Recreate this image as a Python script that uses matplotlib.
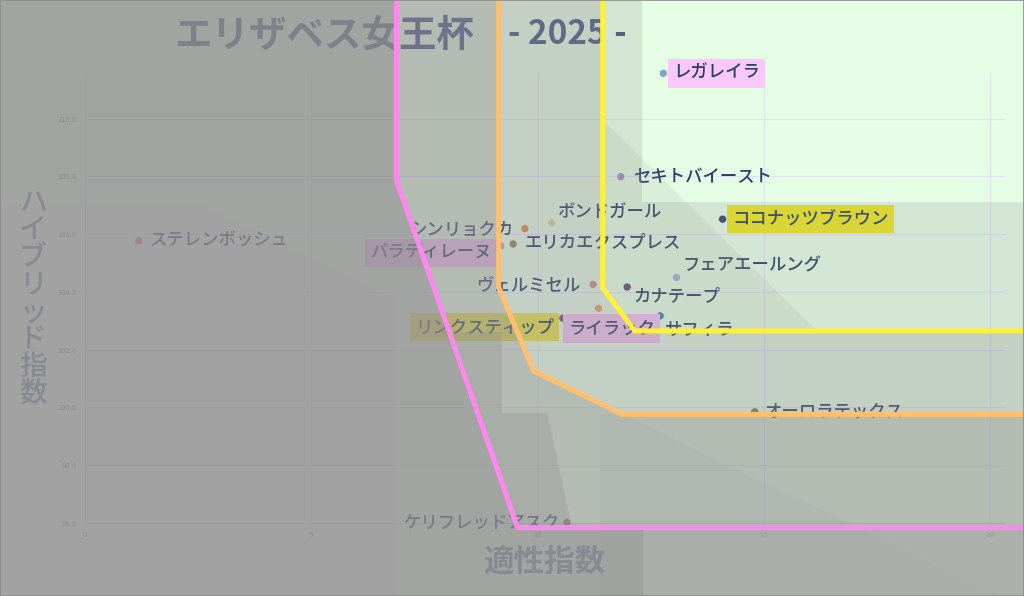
import matplotlib
matplotlib.use("Agg")
import matplotlib.pyplot as plt
from matplotlib.patches import Polygon, Rectangle
from matplotlib.transforms import Affine2D

plt.rcParams["font.family"] = ["Noto Sans CJK JP", "DejaVu Sans"]

# ---------------------------------------------------------------------------
# data
# ---------------------------------------------------------------------------
names = [
    "レガレイラ", "セキトバイースト", "ココナッツブラウン", "ボンドガール",
    "シンリョクカ", "エリカエクスプレス", "パラディレーヌ", "ヴェルミセル",
    "カナテープ", "フェアエールング", "サフィラ", "ライラック",
    "リンクスティップ", "ステレンボッシュ", "オーロラテックス", "ケリフレッドアスク",
]
aptitude = [12.78, 11.84, 14.09, 10.31, 9.72, 9.46, 9.19, 11.23,
            11.98, 13.07, 12.71, 11.35, 10.56, 1.19, 14.80, 10.65]
hybrid = [112.37, 108.79, 107.32, 107.19, 106.99, 106.46, 106.39, 105.06,
          104.97, 105.30, 103.97, 104.23, 103.89, 106.57, 100.65, 96.81]
dot_colors = ["#7fa6c0", "#a98fb8", "#2d4a6e", "#d8d4a4", "#e08850", "#8a8a50",
              "#c0a0c0", "#d09080", "#5a4a6e", "#8ec0d8", "#3a85a8", "#e8a060",
              "#6a5070", "#c08080", "#708040", "#a07070"]

y_ticks = [96.8, 98.8, 100.8, 102.8, 104.8, 106.8, 108.8, 110.8]
x_ticks = [0, 5, 10, 15, 20]

# zone boundaries (適性指数, ハイブリッド指数)
top_x = [12.31, 12.31, 30.0]
top_y = [120.0, 107.91, 107.91]
yellow_x = [11.44, 11.44, 12.15, 30.0]
yellow_y = [120.0, 104.93, 103.45, 103.45]
orange_x = [9.14, 9.14, 9.91, 11.87, 30.0]
orange_y = [120.0, 104.97, 102.07, 100.56, 100.56]
pink_x = [6.88, 6.88, 9.56, 30.0]
pink_y = [120.0, 108.67, 96.64, 96.64]

# label layout: offset in pixels, alignment, box colour
label_style = {
    "レガレイラ": (10, 0, "left", "center", "#fac8fa"),
    "セキトバイースト": (12, 0, "left", "center", None),
    "ココナッツブラウン": (10, 0, "left", "center", "#ece81e"),
    "ボンドガール": (6, 10, "left", "center", None),
    "シンリョクカ": (-11, -1, "right", "center", None),
    "エリカエクスプレス": (12, 1, "left", "center", None),
    "パラディレーヌ": (-9, -7, "right", "center", "#f2c2f2"),
    "ヴェルミセル": (-13, -1, "right", "center", None),
    "カナテープ": (6, -9, "left", "center", None),
    "フェアエールング": (6, 12, "left", "center", None),
    "サフィラ": (5, -14, "left", "center", None),
    "ライラック": (13, -20, "center", "center", "#f2c2f2"),
    "リンクスティップ": (-9, -9, "right", "center", "#e4e048"),
    "ステレンボッシュ": (11, 0, "left", "center", None),
    "オーロラテックス": (10, 0, "left", "center", None),
    "ケリフレッドアスク": (-8, 0, "right", "center", None),
}

SHADE = "#918d91"
BASE = "#e4fde4"
XMIN, XMAX, YBOT = -10.0, 30.0, 90.0

fig = plt.figure(figsize=(10.24, 5.96), dpi=100)
fig.patch.set_facecolor(BASE)
ax = fig.add_axes([85 / 1024, 73 / 596, 920 / 1024, 449.7 / 596])
ax.set_facecolor("none")
ax.set_xlim(0, 20.33)
ax.set_ylim(96.8, 112.37)

ax.set_yticks(y_ticks)
ax.set_yticklabels([f"{v:.1f}" for v in y_ticks])
ax.set_xticks(x_ticks)
ax.tick_params(length=0, labelsize=5.5, labelcolor="#84878c")
ax.tick_params(axis="y", pad=6)
ax.tick_params(axis="x", pad=6)
ax.grid(True, color="#dde3f2", linewidth=0.8, zorder=0)
ax.set_axisbelow(True)
for side in ("top", "right"):
    ax.spines[side].set_visible(False)
for side in ("left", "bottom"):
    ax.spines[side].set_color("#c8cce4")
    ax.spines[side].set_linewidth(0.8)

# points and labels
ax.scatter(aptitude, hybrid, s=34, c=dot_colors, zorder=3, clip_on=False,
           edgecolors="white", linewidths=0.4)
for name, x, y in zip(names, aptitude, hybrid):
    dx, dy, ha, va, box = label_style[name]
    kw = {}
    if box:
        kw["bbox"] = dict(boxstyle="square,pad=0.3", fc=box, ec="none")
    ax.annotate(name, (x, y), xytext=(dx, dy), textcoords="offset pixels",
                ha=ha, va=va, fontsize=12.5, fontweight="medium", color="#2a4064",
                zorder=4, annotation_clip=False, **kw)

# title (under the shading)
px = Affine2D().scale(1 / 1024, -1 / 596).translate(0, 1) + fig.transFigure
ax.text(174, 35, "エリザベス女王杯", transform=px, fontsize=27, fontweight="bold",
        color="#3e5680", ha="left", va="center", zorder=4)
ax.text(508, 35, "- 2025 -", transform=px, fontsize=24, fontweight="bold",
        color="#3e5680", ha="left", va="center", zorder=4)


# shading outside each zone
def outside(xs, ys):
    return [(XMIN, 120.0)] + list(zip(xs, ys)) + [(XMAX, YBOT), (XMIN, YBOT)]


for xs, ys, a in [(top_x, top_y, 0.20), (yellow_x, yellow_y, 0.24),
                  (orange_x, orange_y, 0.30), (pink_x, pink_y, 0.49)]:
    ax.add_patch(Polygon(outside(xs, ys), closed=True, fc=SHADE, ec="none",
                         alpha=a, zorder=6, clip_on=False))

# decorative facets
for verts, col, a in [
    ([(0, 204), (198, 204), (395, 300), (395, 596), (0, 596)], SHADE, 0.06),
    ([(449, 332), (502, 332), (502, 413), (547, 413), (572, 527), (517, 527)], SHADE, 0.3),
    ([(602, 119), (816, 330), (636, 330), (602, 288)], SHADE, 0.12),
    ([(622, 414), (1000, 596), (600, 596), (600, 414)], SHADE, 0.07),
    ([(643, 529), (1024, 529), (1024, 596), (643, 596)], BASE, 0.14),
]:
    ax.add_patch(Polygon(verts, closed=True, fc=col, ec="none", alpha=a,
                         zorder=7, transform=px, clip_on=False))

# zone lines
for xs, ys, col in [(pink_x, pink_y, "#ff88ee"), (orange_x, orange_y, "#ffc070"),
                    (yellow_x, yellow_y, "#fff03a")]:
    ax.plot(xs, ys, color=col, linewidth=3.6, zorder=10, clip_on=False,
            solid_joinstyle="miter")

# axis titles
ax.text(33, 298, "\n".join("ハイブリッド指数"), transform=px, fontsize=20,
        fontweight="medium", color="#868a92", ha="center", va="center",
        linespacing=0.93, zorder=11)
ax.text(544, 562, "適性指数", transform=px, fontsize=22, fontweight="bold",
        color="#868a92", ha="center", va="center", zorder=11)

fig.add_artist(Rectangle((0, 0), 1, 1, transform=fig.transFigure, fill=False,
                         ec="#8c8c8c", lw=1.2, zorder=12))

fig.savefig("out.png", dpi=100)
